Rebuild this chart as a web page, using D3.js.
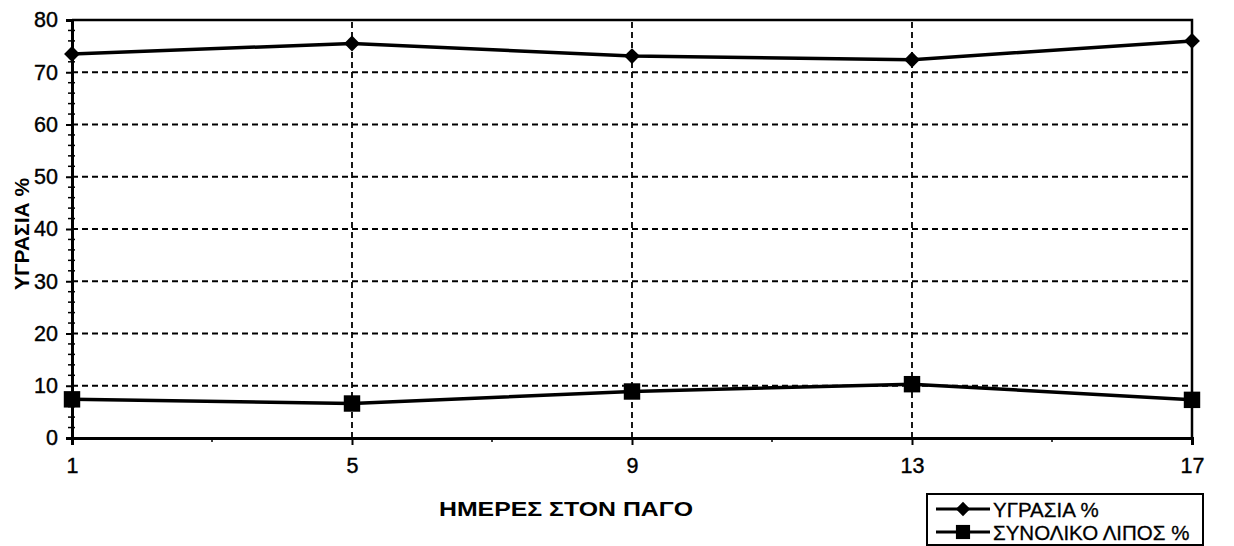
<!DOCTYPE html>
<html>
<head>
<meta charset="utf-8">
<script src="https://cdn.jsdelivr.net/npm/d3@7"></script>
<style>
  body { margin: 0; background: #fff; }
  svg { display: block; font-family: Arial, 'Liberation Sans', sans-serif; }
</style>
</head>
<body>
<div id="chart"></div>
<script>
// Data
const days = [1, 5, 9, 13, 17]
const moisture = [73.5, 75.5, 73.1, 72.4, 76.0]
const totalFat = [7.4, 6.6, 8.9, 10.3, 7.3]
const yTicks = [0, 10, 20, 30, 40, 50, 60, 70, 80]
const xTicks = [1, 5, 9, 13, 17]
const xMinor = [3, 7, 11, 15]
const seriesNames = ['ΥΓΡΑΣΙΑ %', 'ΣΥΝΟΛΙΚΟ ΛΙΠΟΣ %']

// Initialization
const width = 1234
const height = 546
const margin = { left: 72, right: 42, top: 20, bottom: 108 }

const svg = d3.select('#chart').append('svg')
  .attr('width', width)
  .attr('height', height)

const x = d3.scaleLinear()
  .domain([1, 17])
  .range([margin.left, width - margin.right])
const y = d3.scaleLinear()
  .domain([0, 80])
  .range([height - margin.bottom, margin.top])

// Horizontal grid
svg.append('g')
  .selectAll('line')
  .data(yTicks.filter(d => d > 0 && d < 80))
  .enter()
  .append('line')
  .attr('x1', x(1))
  .attr('x2', x(17))
  .attr('y1', d => y(d))
  .attr('y2', d => y(d))
  .attr('stroke', '#000')
  .attr('stroke-width', 1.8)
  .attr('stroke-dasharray', '6,4')

// Vertical grid
svg.append('g')
  .selectAll('line')
  .data(xTicks.filter(d => d > 1 && d < 17))
  .enter()
  .append('line')
  .attr('x1', d => x(d))
  .attr('x2', d => x(d))
  .attr('y1', y(0))
  .attr('y2', y(80))
  .attr('stroke', '#000')
  .attr('stroke-width', 1.8)
  .attr('stroke-dasharray', '6,4')

// Plot frame (top and right)
svg.append('path')
  .attr('d', `M${x(1)},${y(80)}H${x(17)}V${y(0)}`)
  .attr('fill', 'none')
  .attr('stroke', '#000')
  .attr('stroke-width', 2.5)

// Y axis
const yAxis = svg.append('g')
  .attr('transform', `translate(${x(1)},0)`)
  .call(d3.axisLeft(y).tickValues(yTicks).tickSize(6).tickPadding(8))
yAxis.select('.domain').attr('stroke-width', 3)
yAxis.selectAll('.tick line').attr('stroke-width', 2)
yAxis.selectAll('.tick text')
  .style('font-size', '21.5px')
  .attr('fill', '#000')
  .attr('stroke', '#000')
  .attr('stroke-width', 0.4)

// Y minor ticks
svg.append('g')
  .selectAll('line')
  .data(d3.range(2, 80, 2).filter(d => d % 10 !== 0))
  .enter()
  .append('line')
  .attr('x1', x(1) - 4)
  .attr('x2', x(1) + 3)
  .attr('y1', d => y(d))
  .attr('y2', d => y(d))
  .attr('stroke', '#000')
  .attr('stroke-width', 1.5)

// X axis
const xAxis = svg.append('g')
  .attr('transform', `translate(0,${y(0)})`)
  .call(d3.axisBottom(x).tickValues(xTicks).tickSize(7).tickPadding(13))
xAxis.select('.domain').attr('stroke-width', 3)
xAxis.selectAll('.tick line').attr('stroke-width', 2)
xAxis.selectAll('.tick text')
  .style('font-size', '21.5px')
  .attr('fill', '#000')
  .attr('stroke', '#000')
  .attr('stroke-width', 0.4)

// X minor ticks
svg.append('g')
  .selectAll('line')
  .data(xMinor)
  .enter()
  .append('line')
  .attr('x1', d => x(d))
  .attr('x2', d => x(d))
  .attr('y1', y(0))
  .attr('y2', y(0) + 4)
  .attr('stroke', '#000')
  .attr('stroke-width', 1.5)

// Axis titles
svg.append('text')
  .text('ΥΓΡΑΣΙΑ %')
  .attr('transform', `translate(29,234) rotate(-90)`)
  .attr('text-anchor', 'middle')
  .attr('textLength', 112)
  .attr('lengthAdjust', 'spacingAndGlyphs')
  .style('font-size', '21px')
  .style('font-weight', 'bold')

svg.append('text')
  .text('ΗΜΕΡΕΣ ΣΤΟΝ ΠΑΓΟ')
  .attr('x', 566)
  .attr('y', 516)
  .attr('text-anchor', 'middle')
  .attr('textLength', 254)
  .attr('lengthAdjust', 'spacingAndGlyphs')
  .style('font-size', '21px')
  .style('font-weight', 'bold')

// Lines
const line = d3.line()
  .x((d, i) => x(days[i]))
  .y(d => y(d))

svg.append('path')
  .datum(moisture)
  .attr('d', line)
  .attr('fill', 'none')
  .attr('stroke', '#000')
  .attr('stroke-width', 3.5)

svg.append('path')
  .datum(totalFat)
  .attr('d', line)
  .attr('fill', 'none')
  .attr('stroke', '#000')
  .attr('stroke-width', 3.5)

// Markers
const diamond = d3.symbol().type(d3.symbolDiamond2).size(160)
const square = d3.symbol().type(d3.symbolSquare).size(270)

svg.append('g')
  .selectAll('path')
  .data(moisture)
  .enter()
  .append('path')
  .attr('d', diamond)
  .attr('transform', (d, i) => `translate(${x(days[i])},${y(d)})`)
  .attr('fill', '#000')

svg.append('g')
  .selectAll('path')
  .data(totalFat)
  .enter()
  .append('path')
  .attr('d', square)
  .attr('transform', (d, i) => `translate(${x(days[i])},${y(d)})`)
  .attr('fill', '#000')

// Legend
const legend = svg.append('g')
  .attr('transform', 'translate(927,494)')

legend.append('rect')
  .attr('width', 276)
  .attr('height', 51)
  .attr('fill', '#fff')
  .attr('stroke', '#000')
  .attr('stroke-width', 2)

const legendMarkers = [
  d3.symbol().type(d3.symbolDiamond2).size(130),
  d3.symbol().type(d3.symbolSquare).size(200)
]
seriesNames.forEach((name, i) => {
  const cy = 15 + i * 23
  legend.append('line')
    .attr('x1', 9)
    .attr('x2', 63)
    .attr('y1', cy)
    .attr('y2', cy)
    .attr('stroke', '#000')
    .attr('stroke-width', 3)
  legend.append('path')
    .attr('d', legendMarkers[i])
    .attr('transform', `translate(36,${cy})`)
    .attr('fill', '#000')
  legend.append('text')
    .text(name)
    .attr('x', 66)
    .attr('y', cy + 7.5)
    .style('font-size', '20.5px')
    .attr('stroke', '#000')
    .attr('stroke-width', 0.3)
})
</script>
</body>
</html>
